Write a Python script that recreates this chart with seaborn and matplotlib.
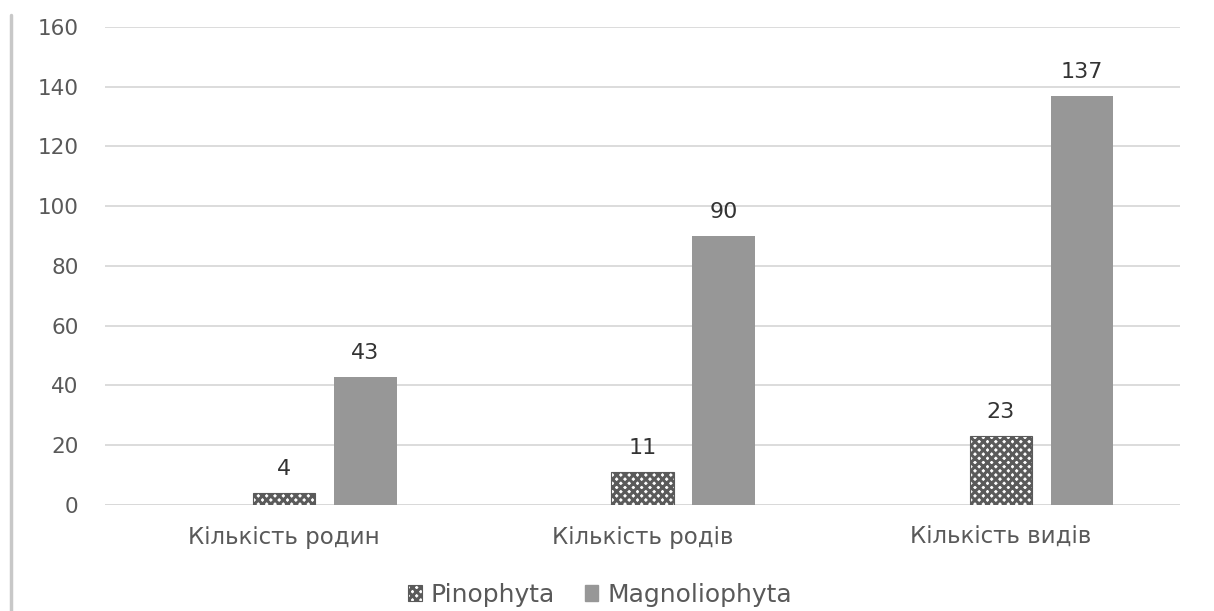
import matplotlib
matplotlib.use("Agg")
import matplotlib.pyplot as plt
from matplotlib.patches import Patch
from matplotlib.lines import Line2D
import pandas as pd
import seaborn as sns

categories = ["Кількість родин", "Кількість родів", "Кількість видів"]
pinophyta = [4, 11, 23]
magnoliophyta = [43, 90, 137]
# the source chart has an empty first series, which shifts the bars right
blank = [0, 0, 0]
series = ["_blank", "Pinophyta", "Magnoliophyta"]

df = pd.DataFrame({
    "category": categories * 3,
    "series": [series[0]] * 3 + [series[1]] * 3 + [series[2]] * 3,
    "value": blank + pinophyta + magnoliophyta,
})

sns.set_theme(style="white")
plt.rcParams["font.family"] = ["DejaVu Sans"]
plt.rcParams["hatch.linewidth"] = 2.2

fig = plt.figure(figsize=(12.14, 6.11), dpi=100)
ax = fig.add_axes([0.0865, 0.1735, 0.8855, 0.7825])

sns.barplot(
    data=df, x="category", y="value", hue="series", hue_order=series,
    order=categories, width=0.68, gap=0.23, palette=["white", "white", "#979797"],
    legend=False, ax=ax, linewidth=0, saturation=1,
)

blank_bars, pino_bars, magno_bars = ax.containers
for bar in pino_bars:
    bar.set_hatch("xxxx")
    bar.set_edgecolor("#5a5a5a")
    bar.set_linewidth(0.8)
for bar in magno_bars:
    bar.set_edgecolor("#979797")

ax.bar_label(pino_bars, padding=10, fontsize=16, color="#333333")
ax.bar_label(magno_bars, padding=10, fontsize=16, color="#333333")

ax.set_ylim(0, 160)
ax.set_yticks(range(0, 161, 20))
ax.set_xlim(-0.5, 2.5)
ax.set_xlabel("")
ax.set_ylabel("")
ax.grid(axis="y", color="#d9d9d9", linewidth=1.3)
ax.set_axisbelow(True)
for side in ax.spines.values():
    side.set_visible(False)
ax.axhline(0, color="#d9d9d9", linewidth=1.3, zorder=0)
ax.tick_params(axis="y", length=0, pad=19, labelsize=15.5, labelcolor="#595959")
ax.tick_params(axis="x", length=0, pad=15, labelsize=16.5, labelcolor="#595959")

handles = [
    Patch(facecolor="white", edgecolor="#5a5a5a", hatch="xxxx", linewidth=0.8),
    Patch(facecolor="#979797", edgecolor="#979797"),
]
fig.legend(handles, ["Pinophyta", "Magnoliophyta"], loc="lower center",
           bbox_to_anchor=(0.494, -0.03), ncol=2, frameon=False,
           fontsize=18, labelcolor="#595959", handlelength=0.55,
           handleheight=0.55, handletextpad=0.35, columnspacing=1.2)

# frame edge on the left of the original picture
fig.add_artist(Line2D([0.009, 0.009], [0.0, 0.975], color="#c8c8c8",
                      linewidth=2.5, transform=fig.transFigure))

fig.savefig("out.png", dpi=100)
